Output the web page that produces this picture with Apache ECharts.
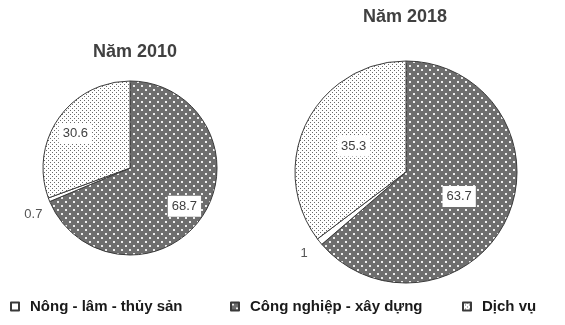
<!DOCTYPE html>
<html><head><meta charset="utf-8">
<script src="https://cdn.jsdelivr.net/npm/echarts@6/dist/echarts.min.js"></script>
<style>html,body{margin:0;padding:0;background:#fff}#c{width:565px;height:325px}</style>
</head><body><div id="c"></div>
<script>
// ---- data ----
const categories = ['Nông - lâm - thủy sản', 'Công nghiệp - xây dựng', 'Dịch vụ'];
const years = ['Năm 2010', 'Năm 2018'];
const values2010 = [0.7, 68.7, 30.6];
const values2018 = [1, 63.7, 35.3];
const drawOrder = [1, 0, 2]; // slices clockwise from 12 o'clock

// ---- patterns ----
function pat(size, bg, fg, dots, d) {
  const c = document.createElement('canvas'); c.width = size; c.height = size;
  const g = c.getContext('2d'); g.fillStyle = bg; g.fillRect(0, 0, size, size);
  g.fillStyle = fg; dots.forEach(p => g.fillRect(p[0], p[1], d, d));
  return c;
}
const darkPat = pat(8, '#6e6e6e', '#eeeeee', [[1, 1], [5, 5]], 2);
const lightPat = pat(4, '#ffffff', '#6a6a6a', [[0, 0], [2, 2]], 1);
const fills = [
  '#ffffff',
  { image: darkPat, repeat: 'repeat' },
  { image: lightPat, repeat: 'repeat' }
];
const FONT = 'Liberation Sans, Arial, sans-serif';

function mkData(vals) {
  return drawOrder.map(i => ({
    name: categories[i], value: vals[i],
    itemStyle: { color: fills[i] }
  }));
}
function labelData(vals) {
  return drawOrder.map(i => {
    const o = { name: categories[i], value: vals[i] };
    if (i === 0) o.label = {
      position: 'outside', backgroundColor: 'transparent', padding: 0, color: '#555'
    };
    return o;
  });
}
// label nudges per drawn slice index (style only)
const pies = [
  { vals: values2010, center: [130, 168], r: 87, rIn: 45, lead: [6, 4],
    nudge: [[-3, 0], [8, 12], [2, 5]] },
  { vals: values2018, center: [406, 172], r: 111, rIn: 0, lead: [10, 3],
    nudge: [[0, 0], [4, 5], [0, 0]] }
];
const series = [];
pies.forEach(p => {
  series.push({
    type: 'pie', center: p.center, radius: [0, p.r], startAngle: 90, clockwise: true,
    data: mkData(p.vals), label: { show: false }, labelLine: { show: false },
    itemStyle: { borderColor: '#3a3a3a', borderWidth: 1 },
    emphasis: { disabled: true }, silent: true, avoidLabelOverlap: false
  });
});
pies.forEach(p => {
  series.push({
    type: 'pie', center: p.center, radius: [p.rIn, p.r], startAngle: 90, clockwise: true,
    data: labelData(p.vals),
    itemStyle: { color: 'rgba(0,0,0,0)', borderWidth: 0 },
    label: {
      show: true, position: 'inside', formatter: '{c}', fontFamily: FONT, fontSize: 13,
      color: '#404040', backgroundColor: '#ffffff', padding: [4, 4, 4, 4]
    },
    labelLine: { show: false, length: p.lead[0], length2: p.lead[1] },
    labelLayout: function (params) {
      const n = p.nudge[params.dataIndex];
      return { dx: n[0], dy: n[1] };
    },
    emphasis: { disabled: true }, silent: true, avoidLabelOverlap: false
  });
});
const titleStyle = { fontFamily: FONT, fontSize: 18, fontWeight: 'bold', color: '#404040' };
const legendBase = {
  orient: 'horizontal', icon: 'rect', itemWidth: 8, itemHeight: 8, padding: 0,
  top: 299, selectedMode: false,
  textStyle: { fontFamily: FONT, fontSize: 15, fontWeight: 'bold', color: '#1a1a1a', padding: [0, 0, 0, 6] }
};
const legendLeft = [10, 230, 462];
const chart = echarts.init(document.getElementById('c'), null, { renderer: 'canvas' });
chart.setOption({
  animation: false,
  backgroundColor: '#ffffff',
  title: [
    { text: years[0], left: 135, top: 43, textAlign: 'center', padding: 0, textStyle: titleStyle },
    { text: years[1], left: 405, top: 8, textAlign: 'center', padding: 0, textStyle: titleStyle }
  ],
  legend: categories.map((c, i) => Object.assign({}, legendBase, { left: legendLeft[i], data: [c] })),
  series: series
});
</script></body></html>
